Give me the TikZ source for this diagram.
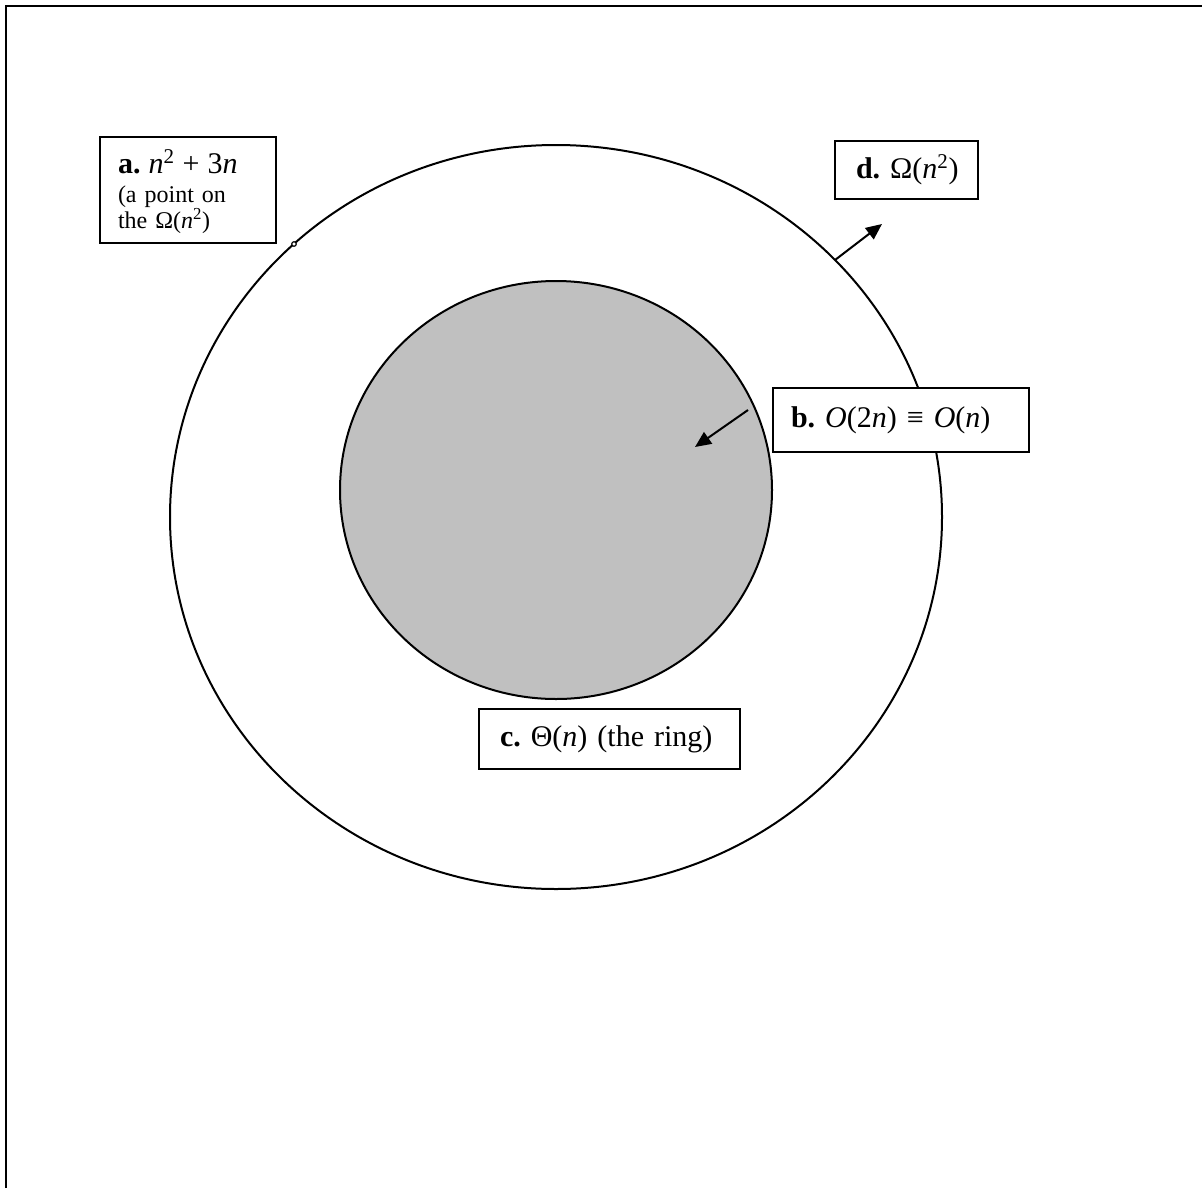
\documentclass[tikz,border=0pt]{standalone}
\usepackage{fontspec}
\setmainfont{Liberation Serif}
\usetikzlibrary{arrows.meta}
\definecolor{ringgray}{RGB}{192,192,192}
\frenchspacing

\begin{document}
\begin{tikzpicture}[x=0.75pt, y=-0.75pt, line width=1.5pt,
    box/.style={draw, rectangle, fill=white, anchor=north west, align=left, font=\fontsize{22.5}{27}\selectfont},
    tip/.style={-{Triangle[length=12pt, width=10.5pt]}}]
    \useasboundingbox (0,0) rectangle (1202,1188);
    % Frame
    \draw (6,1188) -- (6,6) -- (1202,6);

    % Sets
    \coordinate (center) at (556,517);
    \coordinate (inner) at (556,490);
    \draw (center) ellipse [x radius=289.5pt, y radius=279pt];
    \draw[fill=ringgray] (inner) ellipse [x radius=162pt, y radius=156.75pt];

    % Point on the outer circle
    \coordinate (pt) at (294,244);
    \draw[line width=0.9pt, fill=white] (pt) circle [radius=1.7pt];

    % Labels
    \node[box, minimum width=132pt, minimum height=79.5pt, text width=105pt, inner xsep=13.5pt,
        font=\fontsize{18}{16.5}\selectfont] (lbla) at (99,136)
        {{\fontsize{22.5}{27}\selectfont\rule{0pt}{20pt}\textbf{a.} \textit{n}\textsuperscript{2} + 3\textit{n}}\\[5.5pt]
         (a point on\\[-0.5pt] the Ω(\textit{n}\textsuperscript{2})};
    \node[box, minimum width=107.25pt, minimum height=43.5pt, text width=75.75pt, inner xsep=15.75pt] (lbld) at (834,140)
        {\mbox{\textbf{d.} Ω(\textit{n}\textsuperscript{2})}};
    \node[box, minimum width=192pt, minimum height=48pt, text width=165pt, inner xsep=13.5pt] (lblb) at (772,387)
        {\textbf{b.} \textit{O}(2\textit{n}) ≡ \textit{O}(\textit{n})};
    \node[box, minimum width=195.75pt, minimum height=45pt, text width=164.25pt, inner xsep=15.75pt] (lblc) at (478,708)
        {\textbf{c.} Θ(\textit{n}) (the ring)};

    % Arrows
    \coordinate (dtail) at (835,260);
    \coordinate (dhead) at (882,224);
    \coordinate (btail) at (748,410);
    \coordinate (bhead) at (695,447);
    \draw[tip] (dtail) -- (dhead);
    \draw[tip] (btail) -- (bhead);
\end{tikzpicture}
\end{document}
